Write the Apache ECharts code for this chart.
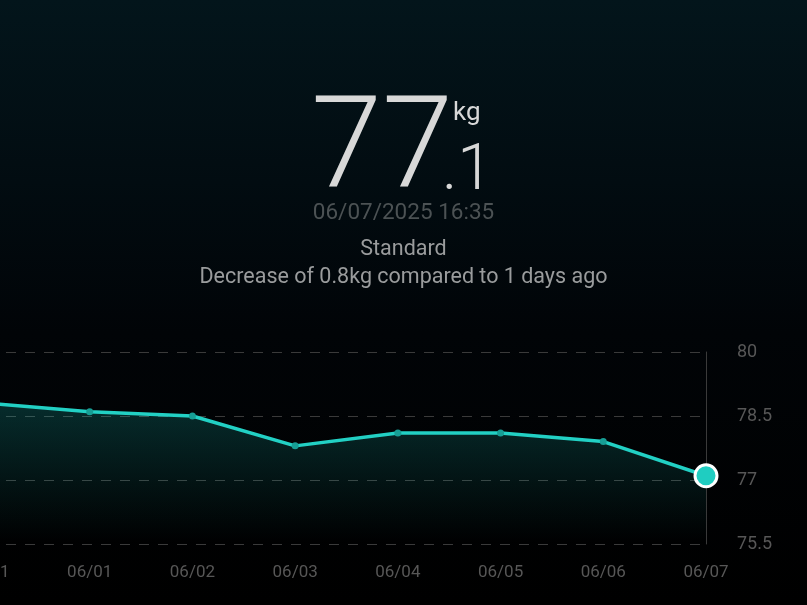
<!DOCTYPE html>
<html><head><meta charset="utf-8">
<script src="https://cdn.jsdelivr.net/npm/echarts@6/dist/echarts.min.js"></script>
<style>
html,body{margin:0;padding:0;width:807px;height:605px;overflow:hidden;background:linear-gradient(180deg,#03151b 0%,#020c11 30%,#010407 55%,#000000 100%);}
#c{width:807px;height:605px;}
</style></head><body><div id="c"></div>
<script>
const dates = ['05/31','06/01','06/02','06/03','06/04','06/05','06/06','06/07'];
const weights = [78.8, 78.6, 78.5, 77.8, 78.1, 78.1, 77.9, 77.1];
const yTicks = [75.5, 77, 78.5, 80];
const headline = { whole: '77', decimal: '.1', unit: 'kg', time: '06/07/2025 16:35', status: 'Standard', note: 'Decrease of 0.8kg compared to 1 days ago' };

const chart = echarts.init(document.getElementById('c'), null, {renderer:'canvas'});
const lastIdx = weights.length - 1;
const seriesData = weights.map((v,i)=> i===lastIdx ? {value:v, symbolSize:22, itemStyle:{color:'#1fcdc1', borderColor:'#ffffff', borderWidth:3}} : v);
const font = 'Roboto, "Open Sans", sans-serif';
chart.setOption({
  backgroundColor:'transparent',
  animation:false,
  grid:{left:-13, right:101, top:352, bottom:61, containLabel:false, outerBoundsMode:'none'},
  xAxis:{type:'category', data:dates, boundaryGap:false,
    axisLine:{show:false}, axisTick:{show:false},
    axisLabel:{color:'#575757', fontSize:17, fontFamily:font, margin:20},
    splitLine:{show:false}},
  yAxis:{type:'value', position:'right', min:yTicks[0], max:yTicks[yTicks.length-1], interval:1.5,
    axisLine:{show:true, lineStyle:{color:'#3a3a3a', width:1}}, axisTick:{show:false},
    axisLabel:{color:'#575757', fontSize:18, fontFamily:font, margin:31},
    splitLine:{show:true, lineStyle:{color:'#3a3a3a', type:[10,9], width:1}}},
  series:[{type:'line', data:seriesData, symbol:'circle', symbolSize:7, showAllSymbol:true,
    itemStyle:{color:'#179e95'},
    lineStyle:{color:'#22d0c4', width:3.5},
    areaStyle:{color:new echarts.graphic.LinearGradient(0,0,0,1,[{offset:0,color:'rgba(30,200,190,0.3)'},{offset:1,color:'rgba(30,200,190,0.0)'}]), origin:'start'},
    z:3}],
  graphic:[
    {type:'text', left:311, top:91, style:{text:headline.whole, fontSize:128, fontWeight:300, fontFamily:font, fill:'#d8d8d8'}},
    {type:'text', left:442, top:141, style:{text:headline.decimal, fontSize:64, fontWeight:300, fontFamily:font, fill:'#d8d8d8'}},
    {type:'text', left:453, top:100, style:{text:headline.unit, fontSize:26, fontWeight:400, fontFamily:font, fill:'#d8d8d8'}},
    {type:'text', left:'center', top:202, style:{text:headline.time, fontSize:22.5, fontFamily:font, fill:'#4c5254'}},
    {type:'text', left:'center', top:239, style:{text:headline.status, fontSize:21.5, fontFamily:font, fill:'#9a9c9d'}},
    {type:'text', left:'center', top:267, style:{text:headline.note, fontSize:21.5, fontFamily:font, fill:'#9a9c9d'}}
  ]
});
</script></body></html>
